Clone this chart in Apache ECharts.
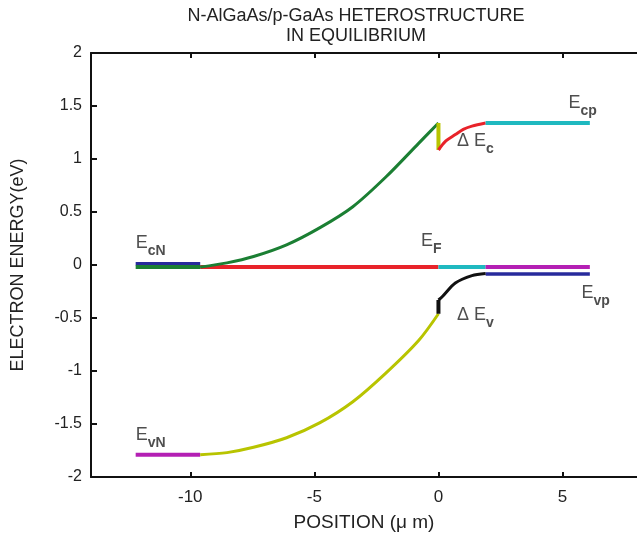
<!DOCTYPE html>
<html><head><meta charset="utf-8">
<script src="https://cdn.jsdelivr.net/npm/echarts@6/dist/echarts.min.js"></script>
<style>html,body{margin:0;padding:0;background:#fff}#c{width:637px;height:540px}</style>
</head><body><div id="c"></div>
<script>
// ---- data ----
const xTickValues = [-10, -5, 0, 5];
const yTickLabels = ['-2', '-1.5', '-1', '-0.5', '0', '0.5', '1', '1.5', '2'];

// N side flat levels (x range)
const nFlatX = [-12.2, -9.6];
const ecNBlue = [0.012, 0.012];
const ecNGreen = [-0.02, -0.02];
const evN = [-1.79, -1.79];

// depletion region conduction band (N side)
const condNX = [-9.6, -8.52, -7.45, -6.12, -4.79, -3.45, -2.12, -0.79, 0];
const condNY = [-0.02, 0.02, 0.08, 0.19, 0.35, 0.55, 0.83, 1.15, 1.34];
// depletion region valence band (N side)
const valNY = [-1.79, -1.77, -1.72, -1.63, -1.49, -1.29, -1.02, -0.71, -0.46];

// spike at junction
const spikeX = [0, 0];
const spikeCY = [1.34, 1.085];
const spikeVY = [-0.46, -0.33];

// p side depletion
const condPX = [0, 0.3, 0.68, 1.0, 1.35, 1.9];
const condPY = [1.085, 1.17, 1.23, 1.28, 1.31, 1.34];
const valPX = [0, 0.15, 0.68, 1.35, 1.9];
const valPY = [-0.33, -0.30, -0.17, -0.10, -0.08];

// p side flat levels
const pFlatX = [1.9, 6.1];
const ecp = [1.34, 1.34];
const efP = [-0.02, -0.02];
const evp = [-0.085, -0.085];

// Fermi level segments
const efRedX = [-9.6, 0];
const efRed = [-0.02, -0.02];
const efCyanX = [0, 1.9];
const efCyan = [-0.02, -0.02];

// annotations
const labelMain = ['E', 'E', 'E', 'Δ E', 'Δ E', 'E', 'E'];
const labelSub = ['cN', 'F', 'cp', 'c', 'v', 'vp', 'vN'];
const labelX = [-12.2, -0.7, 5.24, 0.75, 0.75, 5.76, -12.2];
const labelY = [0.18, 0.2, 1.5, 1.14, -0.5, -0.29, -1.63];

const FONT = "'Liberation Sans', Arial, sans-serif";
const pair = (xs, ys) => xs.map((x, i) => [x, ys[i]]);

function seg(xs, ys, color, width, smooth) {
  return {
    type: 'line', data: pair(xs, ys), showSymbol: false, symbol: 'none',
    smooth: smooth ? 0.3 : false, silent: true,
    lineStyle: { color: color, width: width, cap: 'butt' }
  };
}

const C = { green: '#1b7f33', yellow: '#b8c400', red: '#e8232a', cyan: '#1fb9c0',
  magenta: '#b420b4', blue: '#272a9c', black: '#111111' };

const chart = echarts.init(document.getElementById('c'), null, { renderer: 'canvas' });
chart.setOption({
  animation: false,
  backgroundColor: '#fff',
  title: {
    text: 'N-AlGaAs/p-GaAs HETEROSTRUCTURE\nIN EQUILIBRIUM',
    left: 351, top: 1, textAlign: 'center',
    textStyle: { fontFamily: FONT, fontSize: 18, fontWeight: 'normal', color: '#222', lineHeight: 20, align: 'center' }
  },
  grid: { left: 91, right: -6, top: 53, bottom: 63 },
  xAxis: [{
    type: 'value', min: -14, max: 8, position: 'bottom',
    name: 'POSITION (μ m)', nameLocation: 'middle', nameGap: 36,
    nameTextStyle: { fontFamily: FONT, fontSize: 19, color: '#222' },
    axisLine: { onZero: false, lineStyle: { color: '#111', width: 2 } },
    axisTick: { inside: true, length: 5, lineStyle: { width: 2, color: '#111' }, customValues: xTickValues },
    axisLabel: { margin: 12, fontFamily: FONT, fontSize: 17, color: '#222', customValues: xTickValues },
    splitLine: { show: false }
  }, {
    type: 'value', min: -14, max: 8, position: 'top',
    axisLine: { onZero: false, lineStyle: { color: '#111', width: 2 } },
    axisTick: { inside: true, length: 5, lineStyle: { width: 2, color: '#111' }, customValues: xTickValues },
    axisLabel: { show: false },
    splitLine: { show: false }
  }],
  yAxis: {
    type: 'value', min: -2, max: 2, interval: 0.5,
    name: 'ELECTRON ENERGY(eV)', nameLocation: 'middle', nameGap: 64,
    nameTextStyle: { fontFamily: FONT, fontSize: 18, color: '#222' },
    axisLine: { onZero: false, lineStyle: { color: '#111', width: 2 } },
    axisTick: { inside: true, length: 6, lineStyle: { width: 2, color: '#111' } },
    axisLabel: { margin: 9, fontFamily: FONT, fontSize: 16, color: '#222',
      formatter: (v) => yTickLabels[Math.round((v + 2) / 0.5)] },
    splitLine: { show: false }
  },
  series: [
    seg(efRedX, efRed, C.red, 4),
    seg(efCyanX, efCyan, C.cyan, 4),
    seg(pFlatX, efP, C.magenta, 4),
    seg(pFlatX, evp, C.blue, 3.5),
    seg(nFlatX, ecNBlue, C.blue, 3.5),
    seg(nFlatX, ecNGreen, C.green, 4),
    seg(nFlatX, evN, C.magenta, 4),
    seg(condNX, condNY, C.green, 3, true),
    seg(condNX, valNY, C.yellow, 3, true),
    seg(spikeX, spikeCY, C.yellow, 4),
    seg(condPX, condPY, C.red, 3, true),
    seg(pFlatX, ecp, C.cyan, 4),
    seg(spikeX, spikeVY, C.black, 4),
    seg(valPX, valPY, C.black, 3, true),
    {
      type: 'scatter', symbolSize: 0, silent: true,
      data: labelX.map((x, i) => [x, labelY[i]]),
      label: {
        show: true, position: 'right', distance: 0,
        formatter: (p) => '{m|' + labelMain[p.dataIndex] + '}{s|' + labelSub[p.dataIndex] + '}',
        rich: {
          m: { fontFamily: FONT, fontSize: 18, color: '#222', verticalAlign: 'bottom', padding: [0, 0, 6, 0] },
          s: { fontFamily: FONT, fontSize: 14, fontWeight: 'bold', color: '#222', verticalAlign: 'bottom' }
        }
      }
    }
  ]
});
</script></body></html>
